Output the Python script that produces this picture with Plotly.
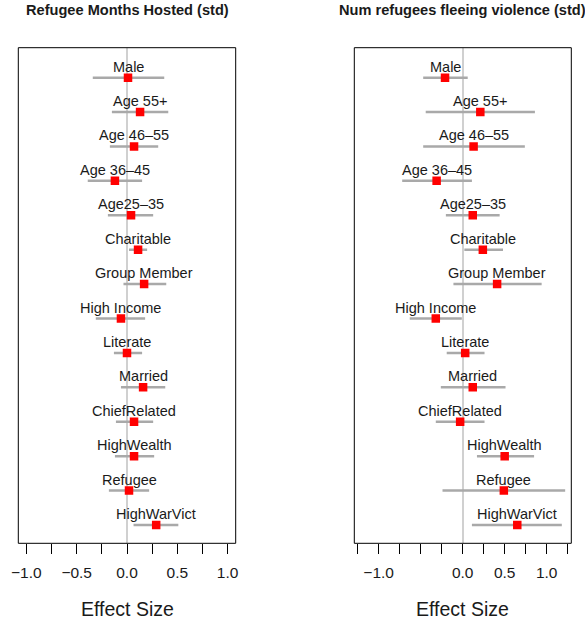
import plotly.graph_objects as go

# Covariates, top to bottom
categories = ["Male", "Age 55+", "Age 46\u201355", "Age 36\u201345", "Age25\u201335",
              "Charitable", "Group Member", "High Income", "Literate", "Married",
              "ChiefRelated", "HighWealth", "Refugee", "HighWarVict"]

# Panel 1: Refugee Months Hosted (std)
est_months = [0.01, 0.13, 0.07, -0.12, 0.04, 0.11, 0.17, -0.06, 0.00, 0.16, 0.07, 0.07, 0.02, 0.29]
lo_months = [-0.34, -0.15, -0.17, -0.39, -0.19, 0.02, -0.035, -0.31, -0.13, -0.06, -0.11, -0.12, -0.18, 0.065]
hi_months = [0.37, 0.41, 0.31, 0.15, 0.26, 0.20, 0.39, 0.18, 0.15, 0.38, 0.26, 0.27, 0.22, 0.51]

# Panel 2: Num refugees fleeing violence (std)
est_violence = [-0.21, 0.21, 0.13, -0.31, 0.12, 0.24, 0.41, -0.32, 0.03, 0.12, -0.03, 0.50, 0.49, 0.65]
lo_violence = [-0.47, -0.44, -0.47, -0.72, -0.20, 0.02, -0.11, -0.63, -0.19, -0.26, -0.32, 0.17, -0.24, 0.11]
hi_violence = [0.06, 0.86, 0.74, 0.11, 0.44, 0.48, 0.94, -0.01, 0.26, 0.51, 0.26, 0.85, 1.22, 1.18]

titles = ["Refugee Months Hosted (std)", "Num refugees fleeing violence (std)"]

ticks_left = [-1.0, -0.75, -0.5, -0.25, 0.0, 0.25, 0.5, 0.75, 1.0]
ticklabels_left = ["\u22121.0", "", "\u22120.5", "", "0.0", "", "0.5", "", "1.0"]
ticks_right = [-1.25, -1.0, -0.75, -0.5, -0.25, 0.0, 0.25, 0.5, 0.75, 1.0, 1.25]
ticklabels_right = ["", "\u22121.0", "", "", "", "0.0", "", "0.5", "", "1.0", ""]

FONT = "Liberation Sans, Arial, Helvetica, sans-serif"
W, H = 585, 625
rows = list(range(len(categories), 0, -1))  # 14 .. 1

y_dom = [(H - 543.3) / H, (H - 47.7) / H]
x_dom1 = [18.3 / W, 235.7 / W]
x_dom2 = [354.3 / W, 571.3 / W]

fig = go.Figure()


def add_panel(est, lo, hi, xa, ya):
    xs, ys = [], []
    for l, h, r in zip(lo, hi, rows):
        xs += [l, h, None]
        ys += [r, r, None]
    fig.add_trace(go.Scatter(x=xs, y=ys, mode="lines", xaxis=xa, yaxis=ya,
                             line=dict(color="#A9A9A9", width=2.5),
                             hoverinfo="skip", showlegend=False))
    fig.add_trace(go.Scatter(x=est, y=rows, mode="markers", xaxis=xa, yaxis=ya,
                             marker=dict(symbol="square", size=8.5, color="#FF0000",
                                         line=dict(width=0)),
                             showlegend=False))
    for name, e, r in zip(categories, est, rows):
        fig.add_annotation(x=e, y=r, xref=xa, yref=ya, text=name,
                           showarrow=False, xanchor="center", yanchor="bottom",
                           yshift=1,
                           font=dict(family=FONT, size=14.5, color="#1a1a1a"))


add_panel(est_months, lo_months, hi_months, "x", "y")
add_panel(est_violence, lo_violence, hi_violence, "x2", "y2")

xcommon = dict(ticks="outside", ticklen=10, tickwidth=1, tickcolor="#000000",
               showgrid=False, zeroline=True, zerolinecolor="#D0D0D0",
               zerolinewidth=2, showline=False, ticklabelstandoff=5,
               automargin=False,
               tickfont=dict(family=FONT, size=15.5, color="#1a1a1a"),
               fixedrange=True)
ycommon = dict(range=[0.468, 14.87], showticklabels=False, ticks="",
               showgrid=False, zeroline=False, showline=False, domain=y_dom,
               automargin=False, fixedrange=True)

fig.update_layout(
    width=W, height=H,
    margin=dict(l=0, r=0, t=0, b=0, autoexpand=False),
    paper_bgcolor="white", plot_bgcolor="white",
    xaxis=dict(domain=x_dom1, range=[-1.08, 1.08], anchor="y",
               tickvals=ticks_left, ticktext=ticklabels_left, **xcommon),
    yaxis=dict(anchor="x", **ycommon),
    xaxis2=dict(domain=x_dom2, range=[-1.29, 1.293], anchor="y2",
                tickvals=ticks_right, ticktext=ticklabels_right, **xcommon),
    yaxis2=dict(anchor="x2", **ycommon),
)

# panel frames
for dom in (x_dom1, x_dom2):
    fig.add_shape(type="rect", xref="paper", yref="paper",
                  x0=dom[0], x1=dom[1], y0=y_dom[0], y1=y_dom[1],
                  line=dict(color="#000000", width=1), fillcolor="rgba(0,0,0,0)",
                  layer="above")

# panel titles and axis titles
for dom, title in zip((x_dom1, x_dom2), titles):
    cx = (dom[0] + dom[1]) / 2
    fig.add_annotation(x=cx, y=1 - 10 / H, xref="paper", yref="paper",
                       text="<b>" + title + "</b>", showarrow=False,
                       xanchor="center", yanchor="middle",
                       font=dict(family=FONT, size=14.6, color="#1a1a1a"))
    fig.add_annotation(x=cx, y=1 - 609 / H, xref="paper", yref="paper",
                       text="Effect Size", showarrow=False,
                       xanchor="center", yanchor="middle",
                       font=dict(family=FONT, size=19.5, color="#1a1a1a"))

fig.write_html("out.html")
